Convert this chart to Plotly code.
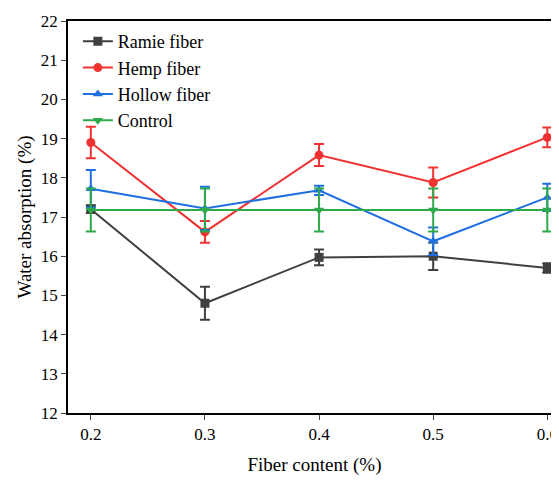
import plotly.graph_objects as go

content = [0.2, 0.3, 0.4, 0.5, 0.6]
ramie = [17.2, 14.8, 15.97, 16.0, 15.7]
ramie_err = [0.1, 0.42, 0.2, 0.35, 0.12]
hemp = [18.9, 16.62, 18.58, 17.88, 19.03]
hemp_err = [0.4, 0.28, 0.28, 0.38, 0.25]
hollow = [17.72, 17.22, 17.68, 16.38, 17.5]
hollow_err = [0.48, 0.55, 0.12, 0.35, 0.35]
control = [17.18, 17.18, 17.18, 17.18, 17.18]
control_err = [0.55, 0.55, 0.55, 0.55, 0.55]

series = [
    ("Ramie fiber", ramie, ramie_err, "#404040", "square"),
    ("Hemp fiber", hemp, hemp_err, "#f03232", "circle"),
    ("Hollow fiber", hollow, hollow_err, "#1f6fe0", "triangle-up"),
    ("Control", control, control_err, "#2eaa4a", "triangle-down"),
]

fig = go.Figure()
for name, y, err, col, sym in series:
    fig.add_trace(go.Scatter(
        x=content, y=y, name=name, mode="lines+markers",
        line=dict(color=col, width=2),
        marker=dict(symbol=sym, size=9, color=col),
        error_y=dict(type="data", array=err, color=col, thickness=2, width=5),
    ))

font = "Liberation Serif"
axis = dict(showline=True, linecolor="black", linewidth=1.5, mirror=True,
            ticks="outside", ticklen=5, showgrid=False, zeroline=False,
            tickfont=dict(family=font, size=17, color="black"))
fig.update_layout(
    width=559, height=483, plot_bgcolor="white", paper_bgcolor="white",
    margin=dict(l=60, r=4, t=12, b=78),
    font=dict(family=font, size=17, color="black"),
    xaxis=dict(title=dict(text="Fiber content (%)", font=dict(family=font, size=19)),
               range=[0.18, 0.612], tickvals=content,
               ticktext=["0.2", "0.3", "0.4", "0.5", "0.6"], **axis),
    yaxis=dict(title=dict(text="Water absorption (%)", font=dict(family=font, size=19), standoff=4),
               range=[12, 22], dtick=1, **axis),
    legend=dict(x=0.02, y=0.995, bgcolor="rgba(0,0,0,0)",
                font=dict(family=font, size=18), tracegroupgap=0),
)
fig.write_html("out.html")
